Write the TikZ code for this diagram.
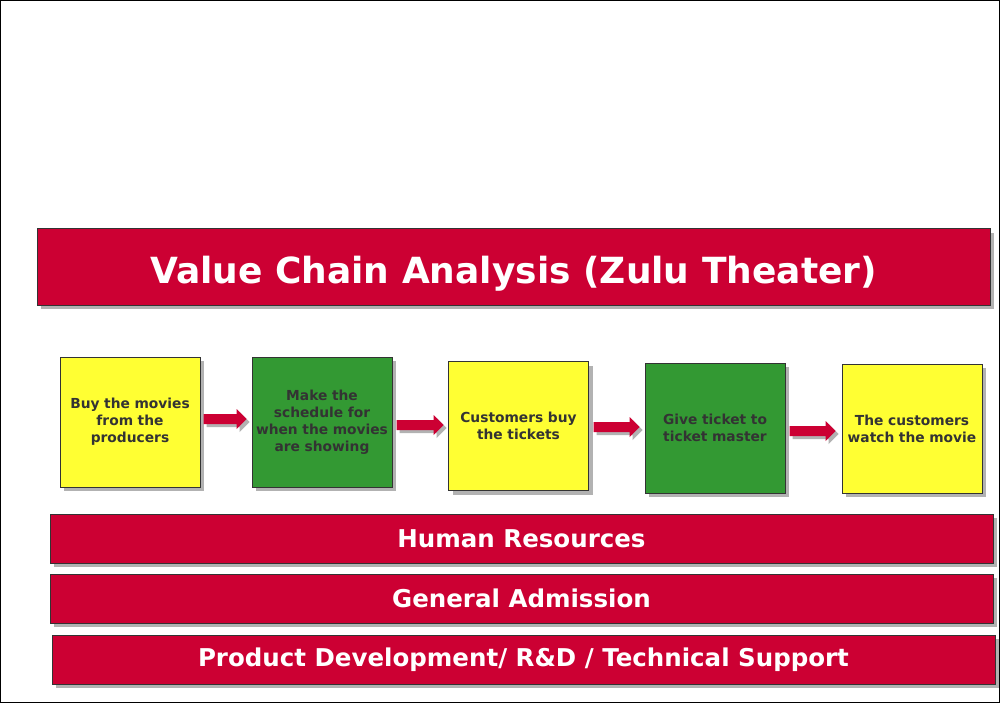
\documentclass[tikz,border=0pt]{standalone}
\usepackage{fontspec}
\setmainfont{DejaVu Sans}
\usetikzlibrary{shadows,calc}
\definecolor{zred}{HTML}{CC0033}
\definecolor{zyellow}{HTML}{FFFF33}
\definecolor{zgreen}{HTML}{339933}
\definecolor{shgray}{HTML}{B2B2B2}
\definecolor{edgegray}{HTML}{333333}
\definecolor{txtgray}{HTML}{333333}
\newcommand\blkarrowpart[5]{%
  \fill[#5] let \p1=(#1), \p2=(#2) in
    (\x1+#3,\y1+5pt+#4) -- (\x2-10pt+#3,\y1+5pt+#4) -- (\x2-10pt+#3,\y1+10pt+#4) --
    (\x2+#3,\y1+#4) -- (\x2-10pt+#3,\y1-10pt+#4) -- (\x2-10pt+#3,\y1-5pt+#4) --
    (\x1+#3,\y1-5pt+#4) -- cycle;}
\newcommand\blkarrow[2]{%
  \blkarrowpart{#1}{#2}{3pt}{-3pt}{shgray}%
  \blkarrowpart{#1}{#2}{0pt}{0pt}{zred}}
\begin{document}
\begin{tikzpicture}[x=1pt,y=-1pt,
  shad/.style={drop shadow={shadow xshift=4pt,shadow yshift=-4pt,fill=shgray,opacity=1}},
  redbar/.style={shad,draw=edgegray,line width=1pt,fill=zred,text=white,
    font=\fontsize{24.5}{28}\selectfont\bfseries,minimum height=49pt,minimum width=943pt,inner sep=0pt},
  stepbox/.style={shad,draw=edgegray,line width=1pt,text=txtgray,align=center,
    font=\fontsize{13.8}{17}\selectfont\bfseries,minimum width=140pt,minimum height=130pt,
    text width=136pt,inner sep=0pt},
  ybox/.style={stepbox,fill=zyellow},
  gbox/.style={stepbox,fill=zgreen}]
\useasboundingbox (0,0) rectangle (1000,703);
\fill[white] (0,0) rectangle (1000,703);
\draw[black,line width=1pt] (0.5,0.5) rectangle (999.5,702.5);

\node[redbar,minimum width=953pt,minimum height=76pt,font=\fontsize{36}{40}\selectfont\bfseries,
  text depth=2pt,text height=35pt]
  (title) at (513.5,267) {Value Chain Analysis (Zulu Theater)};

\node[ybox] (b1) at (130,422) {Buy the movies\\from the\\producers};
\node[gbox] (b2) at (322,422) {Make the\\schedule for\\when the movies\\are showing};
\node[ybox,minimum height=129pt] (b3) at (518.5,426) {Customers buy\\the tickets};
\node[gbox] (b4) at (715,428) {Give ticket to\\ticket master};
\node[ybox,minimum height=129pt] (b5) at (912,428.5) {The customers\\watch the movie};

\blkarrow{$(b1.east)+(3,-3)$}{$(b2.west)+(-5,0)$}
\blkarrow{$(b2.east)+(4,3)$}{$(b3.west)+(-4.5,0)$}
\blkarrow{$(b3.east)+(4.5,1)$}{$(b4.west)+(-5,0)$}
\blkarrow{$(b4.east)+(4,3)$}{$(b5.west)+(-6,0)$}

\node[redbar] (hr) at (521.5,538.5) {Human Resources};
\node[redbar] (ga) at (521.5,598.5) {General Admission};
\node[redbar] (pd) at (523.5,659.5) {Product Development/ R\&D / Technical Support};
\end{tikzpicture}
\end{document}
